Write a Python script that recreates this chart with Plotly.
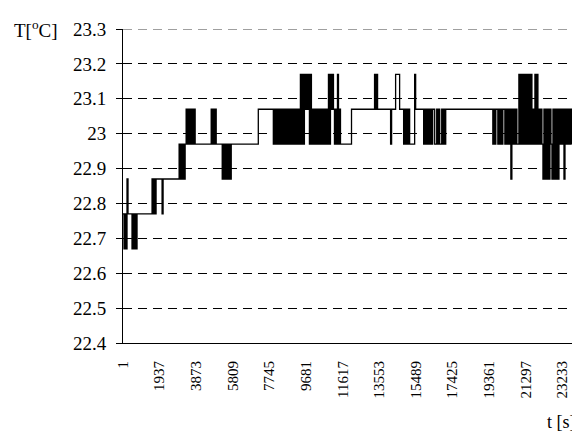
import plotly.graph_objects as go

# Temperature levels of the sensor (quantisation steps), in degC
LEVELS = [22.67, 22.77, 22.87, 22.97, 23.07, 23.17]

# Sensor readings, one code per 53 s interval (code = index into LEVELS)
READINGS = [
    "1", "010", "2", "1111", "010101", "11111111111111",
    "21212", "22222", "1", "2222222222222222",
    "3232323", "4343434343", "333333333333333", "43434", "333333",
    "2323232323", "33333333333333333333333333", "444444444444444",
    "34343434343434343434343434", "353535", "4545", "35",
    "3434343434343434", "353545", "4", "3435343", "3333333333",
    "44444444444444444444444", "545", "4444444444444", "3", "4444",
    "5555", "4444", "343434", "33333", "5", "44444444",
    "3434343434433434334343",
    "44444444444444444444444444444444444444444444444",
    "3434", "4", "343434", "4", "343434", "24", "34343",
    "35353535353535", "34", "3535", "34343", "24242424", "3",
    "24242424", "3434", "2", "43434343",
]
STEP_S = 53

Y_TICKS = [22.4, 22.5, 22.6, 22.7, 22.8, 22.9, 23.0, 23.1, 23.2, 23.3]
Y_LABELS = ["22.4", "22.5", "22.6", "22.7", "22.8", "22.9", "23", "23.1", "23.2", "23.3"]
X_TICKS = [1, 1937, 3873, 5809, 7745, 9681, 11617, 13553, 15489, 17425, 19361, 21297, 23233]

codes = "".join(READINGS)
t = [1 + STEP_S * i for i in range(len(codes))]
temp = [LEVELS[int(c)] for c in codes]

FONT = "'Liberation Serif', 'Times New Roman', serif"

fig = go.Figure(
    go.Scatter(
        x=t, y=temp, mode="lines", line_shape="hv",
        line=dict(color="black", width=1.3), hoverinfo="skip",
    )
)

fig.update_layout(
    width=572, height=432,
    margin=dict(l=123, r=0, t=29, b=89),
    paper_bgcolor="white", plot_bgcolor="white",
    showlegend=False,
    font=dict(family=FONT, color="black", size=16),
)

fig.update_xaxes(
    range=[t[0], t[-1]],
    tickvals=X_TICKS, ticktext=[str(v) for v in X_TICKS],
    tickangle=-90, tickfont=dict(family=FONT, size=15),
    showgrid=False, zeroline=False,
    showline=True, linecolor="black", linewidth=1,
    ticks="", ticklabelstandoff=11,
)

fig.update_yaxes(
    range=[22.4, 23.3],
    tickvals=Y_TICKS, ticktext=Y_LABELS,
    tickfont=dict(family=FONT, size=19),
    showgrid=True, gridcolor="black", gridwidth=1, griddash="9px,6px",
    zeroline=False,
    showline=True, linecolor="black", linewidth=1,
    ticks="outside", ticklen=6, tickcolor="black", ticklabelstandoff=6,
)

# dashed top gridline at the upper end of the range
fig.add_shape(
    type="line", xref="paper", yref="y", x0=0, x1=1, y0=23.3, y1=23.3,
    line=dict(color="#808080", width=1.5, dash="9px,6px"),
)

fig.add_annotation(
    text="T[<sup>o</sup>C]", xref="paper", yref="paper",
    x=(12 - 123) / 449, y=1.0, xanchor="left", yanchor="middle",
    showarrow=False, font=dict(family=FONT, size=19),
)
fig.add_annotation(
    text="t [s]", xref="paper", yref="paper",
    x=(545 - 123) / 449, y=(343 - 422) / 314, xanchor="left", yanchor="middle",
    showarrow=False, font=dict(family=FONT, size=18),
)

fig.write_html("out.html")
